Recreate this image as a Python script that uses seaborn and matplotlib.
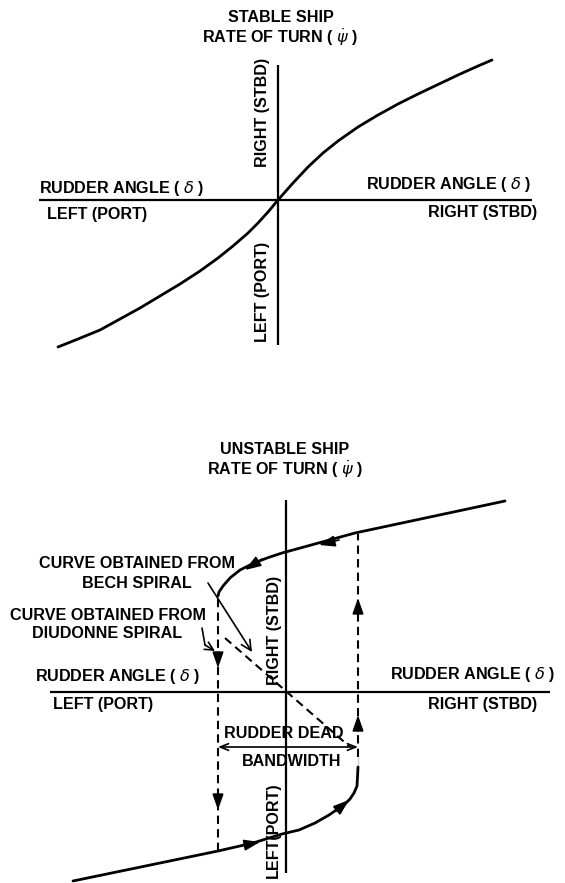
import numpy as np
import pandas as pd
import matplotlib.pyplot as plt
import seaborn as sns

# Stable ship: rate of turn vs rudder angle (arbitrary units, origin at axes crossing)
stable_delta = [-22.0, -20.0, -17.8, -15.8, -13.8, -11.8, -9.8, -7.8, -6.0, -4.5,
                -3.0, -2.0, -1.0, 0.0, 1.5, 3.0, 4.5, 6.0, 8.0, 10.0, 12.0, 14.0,
                16.0, 18.0, 20.0, 21.4]
stable_rate = [-14.7, -13.9, -13.0, -11.9, -10.8, -9.6, -8.4, -7.1, -5.8, -4.6,
               -3.3, -2.3, -1.2, 0.0, 1.7, 3.3, 4.7, 5.9, 7.3, 8.5, 9.6, 10.6,
               11.55, 12.5, 13.4, 14.0]

# Unstable ship: upper branch (Bech spiral), right to left
upper_delta = [21.9, 6.9, -0.4, -1.9, -3.3, -4.6, -5.6, -6.3, -6.7, -6.8]
upper_rate = [19.1, 15.9, 13.9, 13.4, 12.85, 12.2, 11.4, 10.6, 10.0, 9.6]
# lower branch, from dead band edge down to the left
lower_delta = [7.2, 7.2, 7.1, 6.8, 6.4, 5.9, 4.3, 2.9, 1.3, -0.4, -3.3, -6.8, -21.3]
lower_rate = [-6.5, -8.5, -9.4, -10.1, -10.7, -11.2, -12.3, -13.1, -13.8, -14.2, -15.1, -15.9, -18.9]

# Diudonne spiral (dashed, through origin)
diudonne_delta = [-6.1, 6.4]
diudonne_rate = [5.4, -5.5]

# rudder dead band edges and jump lines
dead_band = [-6.8, 7.2]
jump_left = [9.6, -15.9]
jump_right = [15.8, -6.5]

# direction arrows: tail x, tail y, head x, head y
arrows = [
    (5.3, 15.2, 3.3, 14.7),
    (-2.4, 13.3, -4.1, 12.2),
    (-6.8, 4.0, -6.8, 2.4),
    (-6.8, -10.2, -6.8, -11.8),
    (7.2, 7.8, 7.2, 9.4),
    (7.2, -3.9, 7.2, -2.3),
    (5.0, -11.9, 6.3, -10.8),
    (-4.6, -15.4, -2.6, -15.0),
]

sns.set_theme(style="white")
plt.rcParams['font.family'] = ['Liberation Sans', 'DejaVu Sans']
plt.rcParams['mathtext.fontset'] = 'dejavusans'

fig = plt.figure(figsize=(5.65, 8.83), dpi=100)
ax1 = fig.add_axes([0, 443 / 883, 1, 440 / 883])
ax2 = fig.add_axes([0, 0, 1, 443 / 883])

fs = 11.6
tkw = dict(fontsize=fs, fontweight="bold", color="black")

# ---------------- stable ship ----------------
ax1.set_xlim(-27.8, 28.7)
ax1.set_ylim(-24.0, 20.0)
ax1.hlines(0, -23.9, 25.4, color="black", lw=1.6)
ax1.vlines(0, -14.5, 13.5, color="black", lw=1.6)

stable = pd.DataFrame({"delta": stable_delta, "rate": stable_rate})
sns.lineplot(data=stable, x="delta", y="rate", sort=False, color="black", lw=2.0, ax=ax1)

ax1.text(0.3, 18.2, "STABLE SHIP", ha="center", va="center", **tkw)
ax1.text(0.2, 16.3, r"RATE OF TURN ( $\dot{\psi}$ )", ha="center", va="center", **tkw)
ax1.text(-23.9, 1.2, r"RUDDER ANGLE ( $\delta$ )", ha="left", va="center", **tkw)
ax1.text(-23.1, -1.5, "LEFT (PORT)", ha="left", va="center", **tkw)
ax1.text(25.3, 1.5, r"RUDDER ANGLE ( $\delta$ )", ha="right", va="center", **tkw)
ax1.text(25.9, -1.3, "RIGHT (STBD)", ha="right", va="center", **tkw)
ax1.text(-1.6, 8.8, "RIGHT (STBD)", ha="center", va="center", rotation=90, **tkw)
ax1.text(-1.5, -9.2, "LEFT (PORT)", ha="center", va="center", rotation=90, **tkw)

# ---------------- unstable ship ----------------
ax2.set_xlim(-28.6, 27.9)
ax2.set_ylim(-19.1, 25.2)
ax2.hlines(0, -23.6, 26.4, color="black", lw=1.6)
ax2.vlines(0, -18.1, 19.2, color="black", lw=1.6)

upper = pd.DataFrame({"delta": upper_delta, "rate": upper_rate})
lower = pd.DataFrame({"delta": lower_delta, "rate": lower_rate})
sns.lineplot(data=upper, x="delta", y="rate", sort=False, color="black", lw=2.0, ax=ax2)
sns.lineplot(data=lower, x="delta", y="rate", sort=False, color="black", lw=2.0, ax=ax2)

dash = (0, (4, 2.5))
ax2.plot(diudonne_delta, diudonne_rate, color="black", lw=1.5, ls=dash)
ax2.vlines(dead_band[0], jump_left[1], jump_left[0], color="black", lw=1.5, ls=dash)
ax2.vlines(dead_band[1], jump_right[1], jump_right[0], color="black", lw=1.5, ls=dash)

for tx, ty, hx, hy in arrows:
    ax2.annotate("", xy=(hx, hy), xytext=(tx, ty),
                 arrowprops=dict(arrowstyle="-|>,head_length=0.8,head_width=0.28",
                                 color="black", lw=1.2, shrinkA=0, shrinkB=0))

# rudder dead bandwidth double arrow
ax2.annotate("", xy=(dead_band[0], -5.5), xytext=(dead_band[1], -5.5),
             arrowprops=dict(arrowstyle="<->,head_length=0.5,head_width=0.2",
                             color="black", lw=1.2, shrinkA=0, shrinkB=0))

# pointer to Bech spiral curve
ax2.annotate("", xy=(-3.4, 4.0), xytext=(-7.8, 10.9),
             arrowprops=dict(arrowstyle="->,head_length=0.6,head_width=0.3",
                             color="black", lw=1.2, shrinkA=0, shrinkB=0))
# pointer to Diudonne spiral curve
ax2.plot([-8.4, -8.1], [6.4, 4.7], color="black", lw=1.2)
ax2.annotate("", xy=(-7.1, 4.1), xytext=(-8.1, 4.7),
             arrowprops=dict(arrowstyle="->,head_length=0.5,head_width=0.25",
                             color="black", lw=1.2, shrinkA=0, shrinkB=0))

ax2.text(-0.1, 24.2, "UNSTABLE SHIP", ha="center", va="center", **tkw)
ax2.text(-0.1, 22.3, r"RATE OF TURN ( $\dot{\psi}$ )", ha="center", va="center", **tkw)
ax2.text(-14.9, 12.9, "CURVE OBTAINED FROM", ha="center", va="center", **tkw)
ax2.text(-14.9, 10.9, "BECH SPIRAL", ha="center", va="center", **tkw)
ax2.text(-17.8, 7.7, "CURVE OBTAINED FROM", ha="center", va="center", **tkw)
ax2.text(-17.9, 5.8, "DIUDONNE SPIRAL", ha="center", va="center", **tkw)
ax2.text(-1.1, 6.2, "RIGHT (STBD)", ha="center", va="center", rotation=90, **tkw)
ax2.text(-25.1, 1.5, r"RUDDER ANGLE ( $\delta$ )", ha="left", va="center", **tkw)
ax2.text(-23.3, -1.3, "LEFT (PORT)", ha="left", va="center", **tkw)
ax2.text(26.9, 1.7, r"RUDDER ANGLE ( $\delta$ )", ha="right", va="center", **tkw)
ax2.text(25.1, -1.3, "RIGHT (STBD)", ha="right", va="center", **tkw)
ax2.text(-0.2, -4.1, "RUDDER DEAD", ha="center", va="center", **tkw)
ax2.text(0.6, -7.0, "BANDWIDTH", ha="center", va="center", **tkw)
ax2.text(-1.3, -13.8, "LEFT(PORT)", ha="center", va="center", rotation=90, **tkw)

for ax in (ax1, ax2):
    ax.set_axis_off()

fig.savefig("out.png", dpi=100, facecolor="white")
